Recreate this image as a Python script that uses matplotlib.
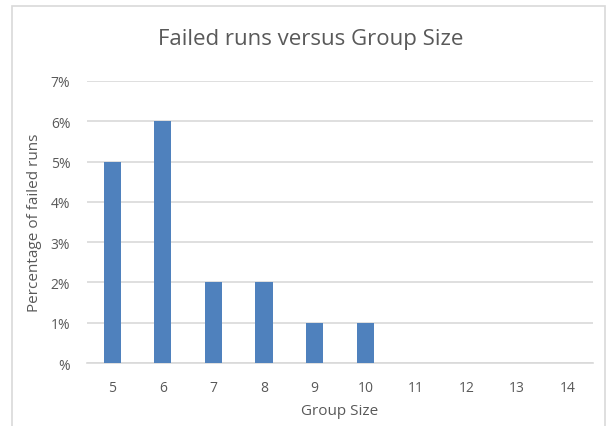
import matplotlib.pyplot as plt
from matplotlib.patches import Rectangle
from matplotlib.ticker import FuncFormatter

# data
group_size = ['5', '6', '7', '8', '9', '10', '11', '12', '13', '14']
failed_pct = [0.05, 0.06, 0.02, 0.02, 0.01, 0.01, 0, 0, 0, 0]

plt.rcParams['font.family'] = ['Open Sans', 'DejaVu Sans']

fig = plt.figure(figsize=(6.07, 4.27), dpi=100)
ax = fig.add_axes([0.1433, 0.1475, 0.8337, 0.6605])

# chart border (left, top, right visible)
fig.patches.append(Rectangle((12 / 607, -0.05), (605 - 12) / 607, 1.05 - 7 / 427,
                             transform=fig.transFigure, fill=False,
                             edgecolor='#d9d9d9', linewidth=1.2))

x = range(len(group_size))
ax.bar(x, failed_pct, width=0.34, color='#4f81bd', zorder=3)

ax.set_xlim(-0.5, len(group_size) - 0.5)
ax.set_ylim(0, 0.07)
ax.set_yticks([i / 100 for i in range(8)])
ax.yaxis.set_major_formatter(FuncFormatter(lambda v, p: '%' if round(v * 100) == 0 else '%d%%' % round(v * 100)))
ax.set_xticks(list(x))
ax.set_xticklabels(group_size)

ax.grid(axis='y', color='#d9d9d9', linewidth=1.2, zorder=0)
for s in ['top', 'right', 'left']:
    ax.spines[s].set_visible(False)
ax.spines['bottom'].set_color('#d9d9d9')
ax.spines['bottom'].set_linewidth(1.2)
ax.tick_params(length=0, colors='#595959', labelsize=10)
ax.tick_params(axis='x', pad=12)
ax.tick_params(axis='y', pad=12)

ax.set_xlabel('Group Size', fontsize=11, color='#595959', labelpad=6)
ax.set_ylabel('Percentage of failed runs', fontsize=11, color='#595959', labelpad=6)
fig.text(0.512, 1 - 39 / 427, 'Failed runs versus Group Size', fontsize=16,
         color='#595959', ha='center', va='center')

plt.savefig('out.png', dpi=100)
